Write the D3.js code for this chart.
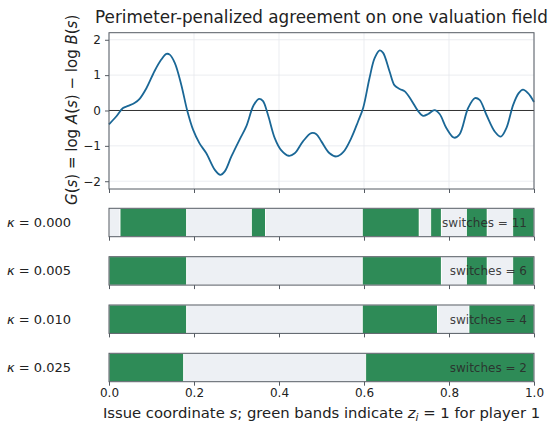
<!DOCTYPE html>
<html><head><meta charset="utf-8">
<script src="https://cdn.jsdelivr.net/npm/d3@7"></script>
<style>
body{margin:0;background:#fff;}
text{font-family:"DejaVu Sans",sans-serif;}
</style></head>
<body><svg id="c" width="550" height="431"></svg>
<script>
// ---- data ----
const sKnots = [0,0.017,0.033,0.045,0.06,0.072,0.088,0.107,0.123,0.135,0.143,0.155,0.170,0.184,0.198,0.213,0.229,0.249,0.262,0.272,0.288,0.307,0.323,0.340,0.353,0.362,0.374,0.390,0.405,0.423,0.437,0.456,0.476,0.488,0.500,0.519,0.535,0.551,0.570,0.586,0.598,0.613,0.625,0.637,0.645,0.660,0.672,0.684,0.696,0.711,0.727,0.739,0.751,0.766,0.778,0.794,0.812,0.825,0.845,0.861,0.872,0.888,0.908,0.922,0.935,0.951,0.964,0.974,0.986,1.0];
const gValues = [-0.39,-0.17,0.07,0.13,0.21,0.33,0.63,1.11,1.44,1.60,1.58,1.34,0.73,0.0,-0.55,-0.93,-1.21,-1.68,-1.82,-1.73,-1.30,-0.83,-0.45,0.14,0.33,0.27,-0.12,-0.78,-1.12,-1.28,-1.21,-0.88,-0.64,-0.67,-0.88,-1.21,-1.30,-1.18,-0.78,-0.31,0.07,0.92,1.48,1.70,1.63,1.11,0.71,0.61,0.54,0.30,-0.01,-0.15,-0.10,0.01,-0.10,-0.50,-0.77,-0.67,0.07,0.35,0.30,-0.12,-0.60,-0.74,-0.50,0.16,0.49,0.59,0.49,0.24];
const yTicks = [-2,-1,0,1,2];
const xTicks = [0,0.2,0.4,0.6,0.8,1.0];
const xTickLabels = ["0.0","0.2","0.4","0.6","0.8","1.0"];
const kappaLabels = ["0.000","0.005","0.010","0.025"];
const switchCounts = [11,6,4,2];
const bandBreaks = [
  [0.026,0.183,0.335,0.368,0.596,0.730,0.757,0.782,0.841,0.890,0.950],
  [0.183,0.596,0.782,0.841,0.890,0.950],
  [0.183,0.596,0.773,0.847],
  [0.176,0.604]
];
const bandStart = [0,1,1,1];

// ---- layout ----
const svg = d3.select("#c");
const L = 109, R = 534;
const topY0 = 32.7, topY1 = 189;
const rowTops = [208.3,256.7,305,353.3], rowH = 28.4;
const frameCol = "#555b63", gridCol = "#e6e9ee";
const green = "#2e8b57", light = "#edf0f4";

const x = d3.scaleLinear().domain([0,1]).range([L,R]);
const y = d3.scaleLinear().domain([-2.22,2.2]).range([topY1,topY0]);

// top panel grid
const panel = svg.append("g");
panel.selectAll(".gx").data(xTicks).enter().append("line")
  .attr("x1",d=>x(d)).attr("x2",d=>x(d)).attr("y1",topY0).attr("y2",topY1)
  .attr("stroke",gridCol).attr("stroke-width",0.8);
panel.selectAll(".gy").data(yTicks).enter().append("line")
  .attr("x1",L).attr("x2",R).attr("y1",d=>y(d)).attr("y2",d=>y(d))
  .attr("stroke",gridCol).attr("stroke-width",0.8);
// zero line
panel.append("line").attr("x1",L).attr("x2",R).attr("y1",y(0)).attr("y2",y(0))
  .attr("stroke","#333").attr("stroke-width",1);
// curve
const pts = sKnots.map((s,i)=>[s,gValues[i]]);
panel.append("path").datum(pts)
  .attr("d",d3.line().x(d=>x(d[0])).y(d=>y(d[1])).curve(d3.curveCatmullRom.alpha(0.5)))
  .attr("fill","none").attr("stroke","#1a6796").attr("stroke-width",1.8);
// frame
panel.append("rect").attr("x",L).attr("y",topY0).attr("width",R-L).attr("height",topY1-topY0)
  .attr("fill","none").attr("stroke",frameCol).attr("stroke-width",1);
// axes
const yAx = svg.append("g").attr("transform",`translate(${L},0)`)
  .call(d3.axisLeft(y).tickValues(yTicks).tickSize(4).tickPadding(4).tickFormat(d=>d<0?"\u2212"+Math.abs(d):d));
yAx.select(".domain").remove();
yAx.selectAll("line").attr("stroke",frameCol);
yAx.selectAll("text").attr("font-size",12).attr("fill","#222").attr("font-family","DejaVu Sans");
const xAxTop = svg.append("g").attr("transform",`translate(0,${topY1})`)
  .call(d3.axisBottom(x).tickValues(xTicks).tickSize(4).tickFormat(""));
xAxTop.select(".domain").remove();
xAxTop.selectAll("line").attr("stroke",frameCol);

// title
svg.append("text").attr("x",(L+R)/2).attr("y",23).attr("text-anchor","middle")
  .attr("font-size",16.8).attr("fill","#222").text("Perimeter-penalized agreement on one valuation field");

// y label
const yl = svg.append("text").attr("transform",`translate(77,${(topY0+topY1)/2-1}) rotate(-90)`)
  .attr("text-anchor","middle").attr("font-size",15).attr("fill","#222");
[["G","i"],["(","n"],["s","i"],[") = log ","n"],["A","i"],["(","n"],["s","i"],[") \u2212 log ","n"],["B","i"],["(","n"],["s","i"],[")","n"]]
  .forEach(p=>yl.append("tspan").attr("font-style",p[1]==="i"?"italic":"normal").text(p[0]));

// band rows
rowTops.forEach((ty,ri)=>{
  const g = svg.append("g");
  const edges = [0].concat(bandBreaks[ri]).concat([1]);
  const segs = [];
  for(let i=0;i<edges.length-1;i++) segs.push({a:edges[i],b:edges[i+1],on:(i%2===0)?bandStart[ri]:1-bandStart[ri]});
  g.selectAll("rect.b").data(segs).enter().append("rect")
    .attr("x",d=>x(d.a)).attr("width",d=>x(d.b)-x(d.a)).attr("y",ty).attr("height",rowH)
    .attr("fill",d=>d.on?green:light).attr("stroke","#fff").attr("stroke-width",0.8);
  g.append("rect").attr("x",L).attr("y",ty).attr("width",R-L).attr("height",rowH)
    .attr("fill","none").attr("stroke",frameCol).attr("stroke-width",1);
  const ax = svg.append("g").attr("transform",`translate(0,${ty+rowH})`)
    .call(d3.axisBottom(x).tickValues(xTicks).tickSize(4).tickPadding(3)
      .tickFormat(ri===rowTops.length-1?(d,i)=>xTickLabels[i]:""));
  ax.select(".domain").remove();
  ax.selectAll("line").attr("stroke",frameCol);
  ax.selectAll("text").attr("font-size",12).attr("fill","#222").attr("font-family","DejaVu Sans");
  // kappa label
  const kl = svg.append("text").attr("x",7).attr("y",ty+rowH/2+4.5).attr("font-size",13).attr("fill","#222");
  kl.append("tspan").attr("font-style","italic").text("\u03ba");
  kl.append("tspan").text(" = "+kappaLabels[ri]);
  // switches label
  svg.append("text").attr("x",527).attr("y",ty+rowH/2+4.5).attr("text-anchor","end")
    .attr("font-size",12).attr("fill","#2a2a2a").attr("fill-opacity",0.9)
    .text("switches  = "+switchCounts[ri]);
});

// x label
const xl = svg.append("text").attr("x",(L+R)/2).attr("y",418).attr("text-anchor","middle")
  .attr("font-size",14.8).attr("fill","#222");
xl.append("tspan").text("Issue coordinate ");
xl.append("tspan").attr("font-style","italic").text("s");
xl.append("tspan").text("; green bands indicate ");
xl.append("tspan").attr("font-style","italic").text("z");
xl.append("tspan").attr("font-style","italic").attr("font-size",10.5).attr("dy",3).text("i");
xl.append("tspan").attr("dy",-3).text(" = 1 for player 1");
</script></body></html>
